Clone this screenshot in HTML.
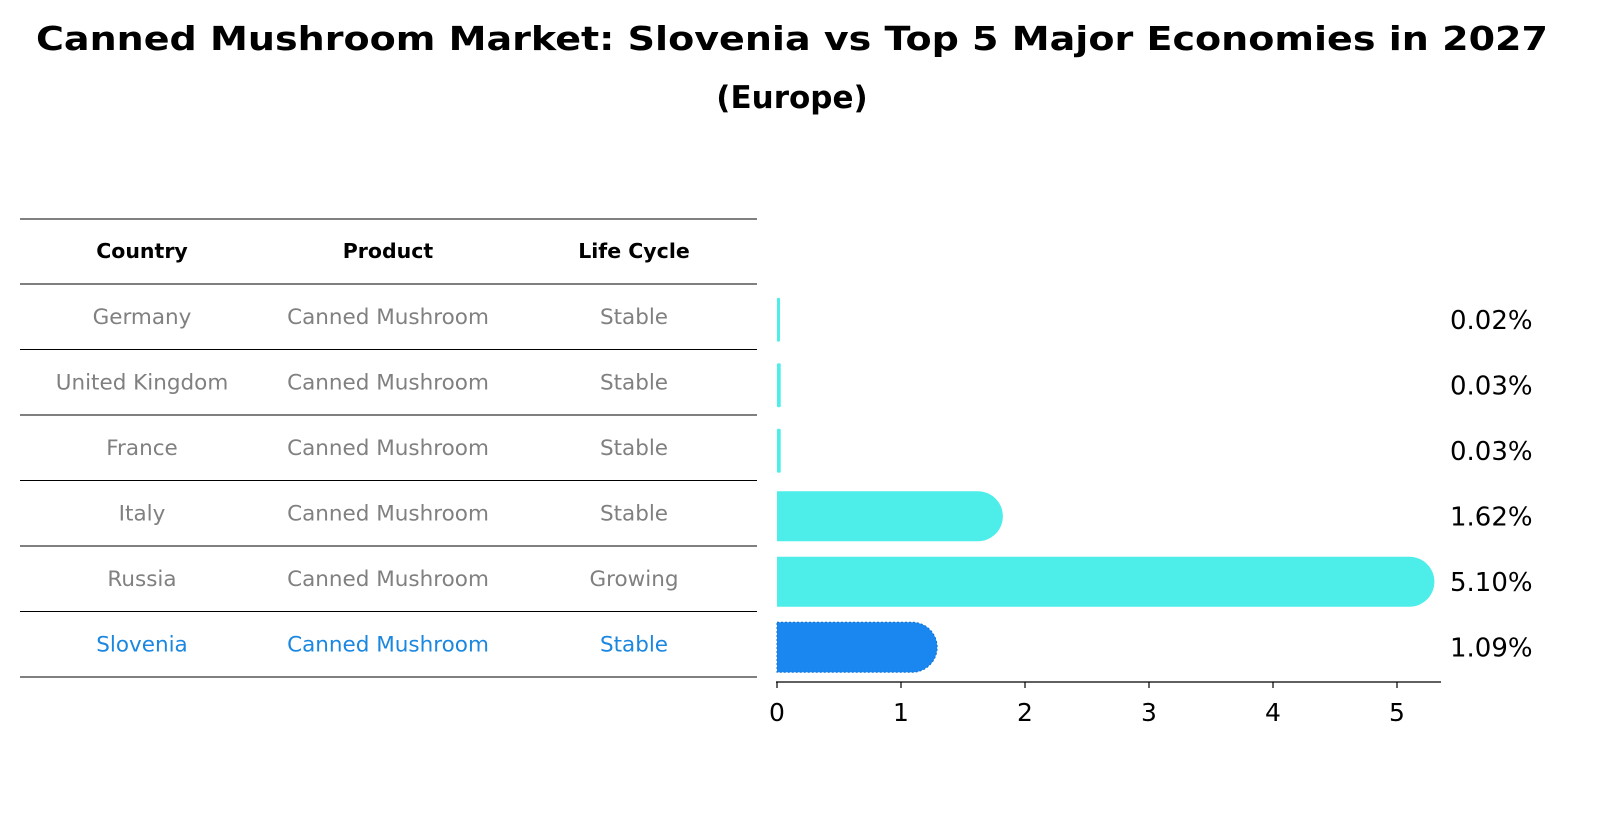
<!DOCTYPE html>
<html><head><meta charset="utf-8"><style>
body{margin:0;background:#fff;font-family:"Liberation Sans","DejaVu Sans",sans-serif;}
</style></head><body>
<svg width="1599" height="823" xmlns="http://www.w3.org/2000/svg" id="chart" font-family="DejaVu Sans, Liberation Sans, sans-serif">
<text x="792" y="50" text-anchor="middle" font-size="33" font-weight="bold" textLength="1512" lengthAdjust="spacingAndGlyphs">Canned Mushroom Market: Slovenia vs Top 5 Major Economies in 2027</text>
<text x="792" y="108" text-anchor="middle" font-size="31" font-weight="bold">(Europe)</text>
<g id="table"></g>
<g id="bars"></g>
</svg>
<script>
const countries=["Germany","United Kingdom","France","Italy","Russia","Slovenia"];
const products=["Canned Mushroom","Canned Mushroom","Canned Mushroom","Canned Mushroom","Canned Mushroom","Canned Mushroom"];
const lifeCycles=["Stable","Stable","Stable","Stable","Growing","Stable"];
const values=[0.02,0.03,0.03,1.62,5.10,1.09];
const xTicks=[0,1,2,3,4,5];
const NS="http://www.w3.org/2000/svg";
function mk(tag,attrs,parent,text){const e=document.createElementNS(NS,tag);for(const k in attrs)e.setAttribute(k,attrs[k]);if(text!==undefined)e.textContent=text;parent.appendChild(e);return e;}
const x=v=>777+v*124;
const rowTop=i=>284+i*65.5;
const rowY=i=>rowTop(i)+32.75;
const tbl=document.getElementById('table');
const cols=[142,388,634];
const lines=[219,284];for(let i=1;i<=countries.length;i++)lines.push(rowTop(i));
lines.forEach((ly,i)=>{const l=mk('line',{x1:20,x2:757,y1:ly,y2:ly,stroke:'#000','stroke-width':1},tbl);

});
["Country","Product","Life Cycle"].forEach((h,j)=>{const t=mk('text',{x:cols[j],y:258,'text-anchor':'middle','font-size':20.5,'font-weight':'bold'},tbl,h);

});
countries.forEach((c,i)=>{const col=i===countries.length-1?'#1a87e0':'#808080';
[c,products[i],lifeCycles[i]].forEach((v,j)=>{const t=mk('text',{x:cols[j],y:rowY(i)+7,'text-anchor':'middle','font-size':21.5,fill:col},tbl,v);

});});
const g=document.getElementById('bars');
const h=50,r=25;
values.forEach((v,i)=>{const cy=rowY(i)+3;const last=i===values.length-1;const fill=last?'#1a87f0':'#4deeea';
const w=Math.max(v*124,3);
let el;
if(v*124>r){el=mk('path',{d:`M${x(0)},${cy-h/2} H${x(v)} A${r},${r} 0 0 1 ${x(v)},${cy+h/2} H${x(0)} Z`,fill:fill,stroke:last?'#1070d0':'none','stroke-dasharray':'2,2','stroke-width':1},g);}
else{el=mk('rect',{x:x(0),y:cy-h/2+3,width:w,height:h-6,rx:1.5,fill:fill},g);}


const t=mk('text',{x:1450,y:cy+9,'font-size':26},g,v.toFixed(2)+'%');

});
const ax=mk('line',{x1:776,x2:1441,y1:682,y2:682,stroke:'#000','stroke-width':1.3},g);


xTicks.forEach(t=>{const tk=mk('line',{x1:x(t),x2:x(t),y1:682,y2:688,stroke:'#000','stroke-width':1.2},g);


const tl=mk('text',{x:x(t),y:721,'text-anchor':'middle','font-size':25},g,String(t));

});
</script>
</body></html>
